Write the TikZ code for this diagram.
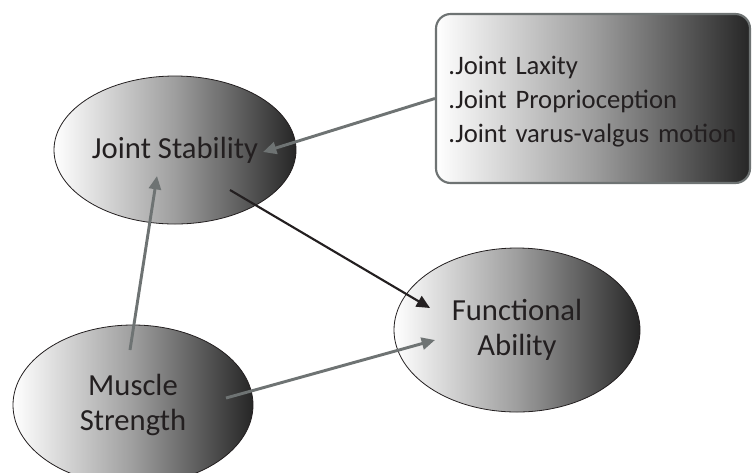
\documentclass[tikz,border=0pt]{standalone}
\usepackage{fontspec}
\setmainfont{Carlito}
\usetikzlibrary{calc,shapes.geometric,arrows.meta}
\definecolor{linegray}{RGB}{110,115,115}
\definecolor{inkdark}{RGB}{35,31,32}

\begin{document}
\begin{tikzpicture}[x=0.75pt,y=-0.75pt,
  shade/.style={left color=white,right color=black!85,middle color=black!38},
  bubble/.style={ellipse,draw=inkdark,line width=0.6pt,shade,inner sep=0pt,
    align=center,text=inkdark,font=\fontsize{23}{26}\selectfont},
  listbox/.style={rectangle,rounded corners=11pt,draw=linegray,line width=1.6pt,shade,
    inner xsep=9pt,text width=217pt,align=left,text=inkdark,font=\fontsize{20}{25.5}\selectfont},
  garrow/.style={draw=linegray,line width=2.2pt,-{Triangle[length=10pt,width=9pt]}},
  darrow/.style={draw=inkdark,line width=1.6pt,-{Triangle[length=10pt,width=9pt]}}]
\useasboundingbox (0,0) rectangle (752,472);

\node[bubble,minimum width=181.5pt,minimum height=111pt] (js) at (175,150) {Joint Stability};
\node[bubble,minimum width=184.5pt,minimum height=123pt] (fa) at (517,330) {Functional\\Ability};
\node[bubble,minimum width=180pt,minimum height=120pt] (ms) at (133,405) {Muscle\\Strength};
\node[listbox,minimum width=235.5pt,minimum height=126.75pt] (box) at (593,98.5)
  {\rule{0pt}{19pt}.Joint Laxity\\.Joint Proprioception\\.Joint varus-valgus motion};

\draw[garrow] (box.west) -- ($(js)+(88,2)$);
\draw[garrow] ($(ms)+(-3,-55)$) -- ($(js)+(-18,26)$);
\draw[darrow] ($(js)+(55,40)$) -- ($(fa)+(-87,-22)$);
\draw[garrow] ($(ms)+(93,-7)$) -- ($(fa)+(-82,10)$);

\end{tikzpicture}
\end{document}
